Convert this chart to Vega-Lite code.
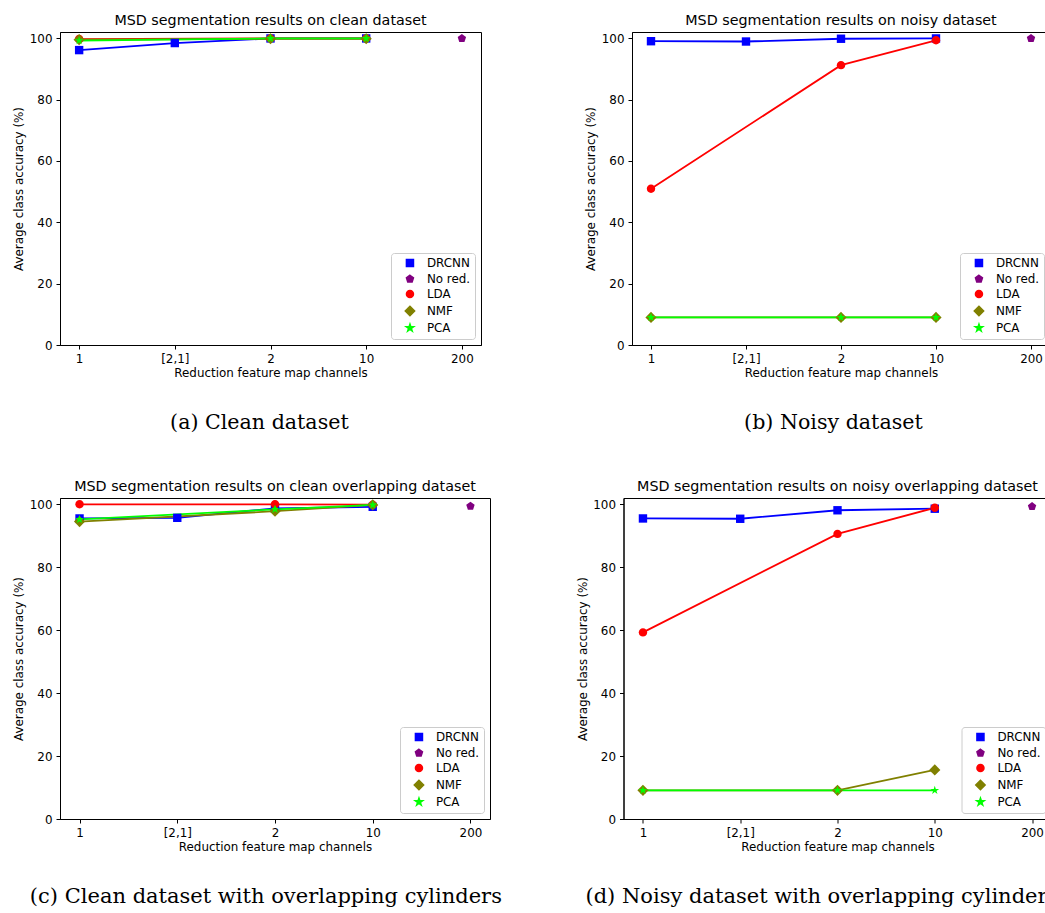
{
  "$schema": "https://vega.github.io/schema/vega-lite/v6.json",
  "padding": {"left": 12, "top": 13, "right": 0, "bottom": 0},
  "background": "white",
  "data": {"values": [
    {"p": "a", "m": "DRCNN", "ch": "1", "acc": 96.1},
    {"p": "a", "m": "DRCNN", "ch": "[2,1]", "acc": 98.4},
    {"p": "a", "m": "DRCNN", "ch": "2", "acc": 99.9},
    {"p": "a", "m": "DRCNN", "ch": "10", "acc": 99.9},
    {"p": "a", "m": "No red.", "ch": "200", "acc": 99.9},
    {"p": "a", "m": "LDA", "ch": "1", "acc": 99.7},
    {"p": "a", "m": "LDA", "ch": "2", "acc": 99.9},
    {"p": "a", "m": "LDA", "ch": "10", "acc": 99.9},
    {"p": "a", "m": "NMF", "ch": "1", "acc": 99.5},
    {"p": "a", "m": "NMF", "ch": "2", "acc": 99.8},
    {"p": "a", "m": "NMF", "ch": "10", "acc": 99.8},
    {"p": "a", "m": "PCA", "ch": "1", "acc": 99.2},
    {"p": "a", "m": "PCA", "ch": "2", "acc": 99.9},
    {"p": "a", "m": "PCA", "ch": "10", "acc": 99.9},
    {"p": "b", "m": "DRCNN", "ch": "1", "acc": 99.0},
    {"p": "b", "m": "DRCNN", "ch": "[2,1]", "acc": 98.9},
    {"p": "b", "m": "DRCNN", "ch": "2", "acc": 99.8},
    {"p": "b", "m": "DRCNN", "ch": "10", "acc": 99.9},
    {"p": "b", "m": "No red.", "ch": "200", "acc": 99.9},
    {"p": "b", "m": "LDA", "ch": "1", "acc": 50.9},
    {"p": "b", "m": "LDA", "ch": "2", "acc": 91.2},
    {"p": "b", "m": "LDA", "ch": "10", "acc": 99.3},
    {"p": "b", "m": "NMF", "ch": "1", "acc": 9.0},
    {"p": "b", "m": "NMF", "ch": "2", "acc": 9.0},
    {"p": "b", "m": "NMF", "ch": "10", "acc": 9.0},
    {"p": "b", "m": "PCA", "ch": "1", "acc": 9.0},
    {"p": "b", "m": "PCA", "ch": "2", "acc": 9.0},
    {"p": "b", "m": "PCA", "ch": "10", "acc": 9.0},
    {"p": "c", "m": "DRCNN", "ch": "1", "acc": 95.5},
    {"p": "c", "m": "DRCNN", "ch": "[2,1]", "acc": 95.7},
    {"p": "c", "m": "DRCNN", "ch": "2", "acc": 98.7},
    {"p": "c", "m": "DRCNN", "ch": "10", "acc": 99.2},
    {"p": "c", "m": "No red.", "ch": "200", "acc": 99.4},
    {"p": "c", "m": "LDA", "ch": "1", "acc": 100.0},
    {"p": "c", "m": "LDA", "ch": "2", "acc": 100.0},
    {"p": "c", "m": "LDA", "ch": "10", "acc": 99.9},
    {"p": "c", "m": "NMF", "ch": "1", "acc": 94.5},
    {"p": "c", "m": "NMF", "ch": "2", "acc": 97.8},
    {"p": "c", "m": "NMF", "ch": "10", "acc": 99.8},
    {"p": "c", "m": "PCA", "ch": "1", "acc": 95.2},
    {"p": "c", "m": "PCA", "ch": "2", "acc": 98.4},
    {"p": "c", "m": "PCA", "ch": "10", "acc": 99.8},
    {"p": "d", "m": "DRCNN", "ch": "1", "acc": 95.5},
    {"p": "d", "m": "DRCNN", "ch": "[2,1]", "acc": 95.4},
    {"p": "d", "m": "DRCNN", "ch": "2", "acc": 98.1},
    {"p": "d", "m": "DRCNN", "ch": "10", "acc": 98.6},
    {"p": "d", "m": "No red.", "ch": "200", "acc": 99.3},
    {"p": "d", "m": "LDA", "ch": "1", "acc": 59.3},
    {"p": "d", "m": "LDA", "ch": "2", "acc": 90.6},
    {"p": "d", "m": "LDA", "ch": "10", "acc": 98.9},
    {"p": "d", "m": "NMF", "ch": "1", "acc": 9.1},
    {"p": "d", "m": "NMF", "ch": "2", "acc": 9.1},
    {"p": "d", "m": "NMF", "ch": "10", "acc": 15.6},
    {"p": "d", "m": "PCA", "ch": "1", "acc": 9.1},
    {"p": "d", "m": "PCA", "ch": "2", "acc": 9.1},
    {"p": "d", "m": "PCA", "ch": "10", "acc": 9.1}
  ]},
  "spacing": 45,
  "resolve": {"scale": {"color": "independent", "shape": "independent"}},
  "vconcat": [
    {
      "spacing": 102,
      "resolve": {"scale": {"color": "independent", "shape": "independent"}},
      "hconcat": [
        {
          "title": {"text": "(a) Clean dataset", "orient": "bottom", "anchor": "middle", "font": "DejaVu Serif", "fontSize": 20.6, "fontWeight": "normal", "color": "#000", "baseline": "alphabetic", "offset": 50, "dx": 12.5},
          "resolve": {"scale": {"color": "independent", "shape": "independent"}},
          "vconcat": [
            {
              "title": {"text": "MSD segmentation results on clean dataset", "anchor": "middle"},
              "width": 421, "height": 313,
              "transform": [{"filter": "datum.p === 'a'"}],
              "encoding": {
                "x": {"field": "ch", "type": "ordinal", "sort": ["1", "[2,1]", "2", "10", "200"], "scale": {"type": "point", "padding": 0.2, "domain": ["1", "[2,1]", "2", "10", "200"]}, "axis": {"title": "Reduction feature map channels"}},
                "y": {"field": "acc", "type": "quantitative", "scale": {"domain": [0, 102], "nice": false}, "axis": {"values": [0, 20, 40, 60, 80, 100], "title": "Average class accuracy (%)"}},
                "color": {"field": "m", "type": "nominal", "sort": ["DRCNN", "No red.", "LDA", "NMF", "PCA"], "scale": {"domain": ["DRCNN", "No red.", "LDA", "NMF", "PCA"], "range": ["#0000ff", "#800080", "#ff0000", "#808000", "#00ff00"]}, "legend": {"title": null}}
              },
              "layer": [
                {"mark": {"type": "line", "strokeWidth": 1.8}, "encoding": {"order": {"value": null}}},
                {"mark": {"type": "point", "filled": true, "size": 64, "opacity": 1, "strokeWidth": 0},
                 "encoding": {"shape": {"field": "m", "type": "nominal", "legend": null, "scale": {"domain": ["DRCNN", "No red.", "LDA", "NMF", "PCA"], "range": ["M-1.05,-1.05L1.05,-1.05L1.05,1.05L-1.05,1.05Z", "M0,-1.1L1.05,-0.34L0.65,0.89L-0.65,0.89L-1.05,-0.34Z", "M-1.05,0A1.05,1.05,0,1,0,1.05,0A1.05,1.05,0,1,0,-1.05,0Z", "M0,-1.4L1.4,0L0,1.4L-1.4,0Z", "M0,-1.15L0.26,-0.35L1.09,-0.36L0.42,0.13L0.68,0.93L0,0.44L-0.68,0.93L-0.42,0.13L-1.09,-0.36L-0.26,-0.35Z"]}}}}
              ]
            }
          ]
        },
        {
          "title": {"text": "(b) Noisy dataset", "orient": "bottom", "anchor": "middle", "font": "DejaVu Serif", "fontSize": 20.6, "fontWeight": "normal", "color": "#000", "baseline": "alphabetic", "offset": 50, "dx": 16},
          "resolve": {"scale": {"color": "independent", "shape": "independent"}},
          "vconcat": [
            {
              "title": {"text": "MSD segmentation results on noisy dataset", "anchor": "middle"},
              "width": 418, "height": 313,
              "transform": [{"filter": "datum.p === 'b'"}],
              "encoding": {
                "x": {"field": "ch", "type": "ordinal", "sort": ["1", "[2,1]", "2", "10", "200"], "scale": {"type": "point", "padding": 0.2, "domain": ["1", "[2,1]", "2", "10", "200"]}, "axis": {"title": "Reduction feature map channels"}},
                "y": {"field": "acc", "type": "quantitative", "scale": {"domain": [0, 102], "nice": false}, "axis": {"values": [0, 20, 40, 60, 80, 100], "title": "Average class accuracy (%)"}},
                "color": {"field": "m", "type": "nominal", "sort": ["DRCNN", "No red.", "LDA", "NMF", "PCA"], "scale": {"domain": ["DRCNN", "No red.", "LDA", "NMF", "PCA"], "range": ["#0000ff", "#800080", "#ff0000", "#808000", "#00ff00"]}, "legend": {"title": null}}
              },
              "layer": [
                {"mark": {"type": "line", "strokeWidth": 1.8}, "encoding": {"order": {"value": null}}},
                {"mark": {"type": "point", "filled": true, "size": 64, "opacity": 1, "strokeWidth": 0},
                 "encoding": {"shape": {"field": "m", "type": "nominal", "legend": null, "scale": {"domain": ["DRCNN", "No red.", "LDA", "NMF", "PCA"], "range": ["M-1.05,-1.05L1.05,-1.05L1.05,1.05L-1.05,1.05Z", "M0,-1.1L1.05,-0.34L0.65,0.89L-0.65,0.89L-1.05,-0.34Z", "M-1.05,0A1.05,1.05,0,1,0,1.05,0A1.05,1.05,0,1,0,-1.05,0Z", "M0,-1.4L1.4,0L0,1.4L-1.4,0Z", "M0,-1.15L0.26,-0.35L1.09,-0.36L0.42,0.13L0.68,0.93L0,0.44L-0.68,0.93L-0.42,0.13L-1.09,-0.36L-0.26,-0.35Z"]}}}}
              ]
            }
          ]
        }
      ]
    },
    {
      "spacing": 73.5,
      "resolve": {"scale": {"color": "independent", "shape": "independent"}},
      "hconcat": [
        {
          "title": {"text": "(c) Clean dataset with overlapping cylinders", "orient": "bottom", "anchor": "middle", "font": "DejaVu Serif", "fontSize": 21, "fontWeight": "normal", "color": "#000", "baseline": "alphabetic", "offset": 50, "dx": 14.5},
          "resolve": {"scale": {"color": "independent", "shape": "independent"}},
          "vconcat": [
            {
              "title": {"text": "MSD segmentation results on clean overlapping dataset", "anchor": "middle"},
              "width": 430, "height": 321,
              "transform": [{"filter": "datum.p === 'c'"}],
              "encoding": {
                "x": {"field": "ch", "type": "ordinal", "sort": ["1", "[2,1]", "2", "10", "200"], "scale": {"type": "point", "padding": 0.2, "domain": ["1", "[2,1]", "2", "10", "200"]}, "axis": {"title": "Reduction feature map channels"}},
                "y": {"field": "acc", "type": "quantitative", "scale": {"domain": [0, 102], "nice": false}, "axis": {"values": [0, 20, 40, 60, 80, 100], "title": "Average class accuracy (%)"}},
                "color": {"field": "m", "type": "nominal", "sort": ["DRCNN", "No red.", "LDA", "NMF", "PCA"], "scale": {"domain": ["DRCNN", "No red.", "LDA", "NMF", "PCA"], "range": ["#0000ff", "#800080", "#ff0000", "#808000", "#00ff00"]}, "legend": {"title": null}}
              },
              "layer": [
                {"mark": {"type": "line", "strokeWidth": 1.8}, "encoding": {"order": {"value": null}}},
                {"mark": {"type": "point", "filled": true, "size": 64, "opacity": 1, "strokeWidth": 0},
                 "encoding": {"shape": {"field": "m", "type": "nominal", "legend": null, "scale": {"domain": ["DRCNN", "No red.", "LDA", "NMF", "PCA"], "range": ["M-1.05,-1.05L1.05,-1.05L1.05,1.05L-1.05,1.05Z", "M0,-1.1L1.05,-0.34L0.65,0.89L-0.65,0.89L-1.05,-0.34Z", "M-1.05,0A1.05,1.05,0,1,0,1.05,0A1.05,1.05,0,1,0,-1.05,0Z", "M0,-1.4L1.4,0L0,1.4L-1.4,0Z", "M0,-1.15L0.26,-0.35L1.09,-0.36L0.42,0.13L0.68,0.93L0,0.44L-0.68,0.93L-0.42,0.13L-1.09,-0.36L-0.26,-0.35Z"]}}}}
              ]
            }
          ]
        },
        {
          "title": {"text": "(d) Noisy dataset with overlapping cylinders", "orient": "bottom", "anchor": "middle", "font": "DejaVu Serif", "fontSize": 21, "fontWeight": "normal", "color": "#000", "baseline": "alphabetic", "offset": 50, "dx": 8},
          "resolve": {"scale": {"color": "independent", "shape": "independent"}},
          "vconcat": [
            {
              "title": {"text": "MSD segmentation results on noisy overlapping dataset", "anchor": "middle"},
              "width": 428, "height": 321,
              "transform": [{"filter": "datum.p === 'd'"}],
              "encoding": {
                "x": {"field": "ch", "type": "ordinal", "sort": ["1", "[2,1]", "2", "10", "200"], "scale": {"type": "point", "padding": 0.2, "domain": ["1", "[2,1]", "2", "10", "200"]}, "axis": {"title": "Reduction feature map channels"}},
                "y": {"field": "acc", "type": "quantitative", "scale": {"domain": [0, 102], "nice": false}, "axis": {"values": [0, 20, 40, 60, 80, 100], "title": "Average class accuracy (%)"}},
                "color": {"field": "m", "type": "nominal", "sort": ["DRCNN", "No red.", "LDA", "NMF", "PCA"], "scale": {"domain": ["DRCNN", "No red.", "LDA", "NMF", "PCA"], "range": ["#0000ff", "#800080", "#ff0000", "#808000", "#00ff00"]}, "legend": {"title": null}}
              },
              "layer": [
                {"mark": {"type": "line", "strokeWidth": 1.8}, "encoding": {"order": {"value": null}}},
                {"mark": {"type": "point", "filled": true, "size": 64, "opacity": 1, "strokeWidth": 0},
                 "encoding": {"shape": {"field": "m", "type": "nominal", "legend": null, "scale": {"domain": ["DRCNN", "No red.", "LDA", "NMF", "PCA"], "range": ["M-1.05,-1.05L1.05,-1.05L1.05,1.05L-1.05,1.05Z", "M0,-1.1L1.05,-0.34L0.65,0.89L-0.65,0.89L-1.05,-0.34Z", "M-1.05,0A1.05,1.05,0,1,0,1.05,0A1.05,1.05,0,1,0,-1.05,0Z", "M0,-1.4L1.4,0L0,1.4L-1.4,0Z", "M0,-1.15L0.26,-0.35L1.09,-0.36L0.42,0.13L0.68,0.93L0,0.44L-0.68,0.93L-0.42,0.13L-1.09,-0.36L-0.26,-0.35Z"]}}}}
              ]
            }
          ]
        }
      ]
    }
  ],
  "config": {
    "font": "DejaVu Sans",
    "view": {"stroke": "#000000", "strokeWidth": 1},
    "axis": {"domainColor": "#000000", "domainWidth": 1, "tickColor": "#000000", "tickSize": 4, "tickWidth": 1, "labelColor": "#000000", "labelFont": "DejaVu Sans", "labelFontSize": 11.9, "labelPadding": 4, "titleColor": "#000000", "titleFont": "DejaVu Sans", "titleFontSize": 11.9, "titleFontWeight": "normal", "grid": false, "labelFlush": false},
    "axisX": {"titlePadding": 4, "labelAngle": 0},
    "axisY": {"titlePadding": 4.5},
    "title": {"font": "DejaVu Sans", "fontSize": 14.3, "fontWeight": "normal", "color": "#000000", "baseline": "alphabetic", "offset": 4},
    "legend": {"orient": "bottom-right", "offset": 6, "padding": 4, "strokeColor": "#cccccc", "fillColor": "rgba(255,255,255,0.8)", "cornerRadius": 3, "labelFont": "DejaVu Sans", "labelFontSize": 11.9, "labelColor": "#000000", "rowPadding": 2, "symbolSize": 45, "symbolOffset": 9, "labelOffset": 11}
  }
}
